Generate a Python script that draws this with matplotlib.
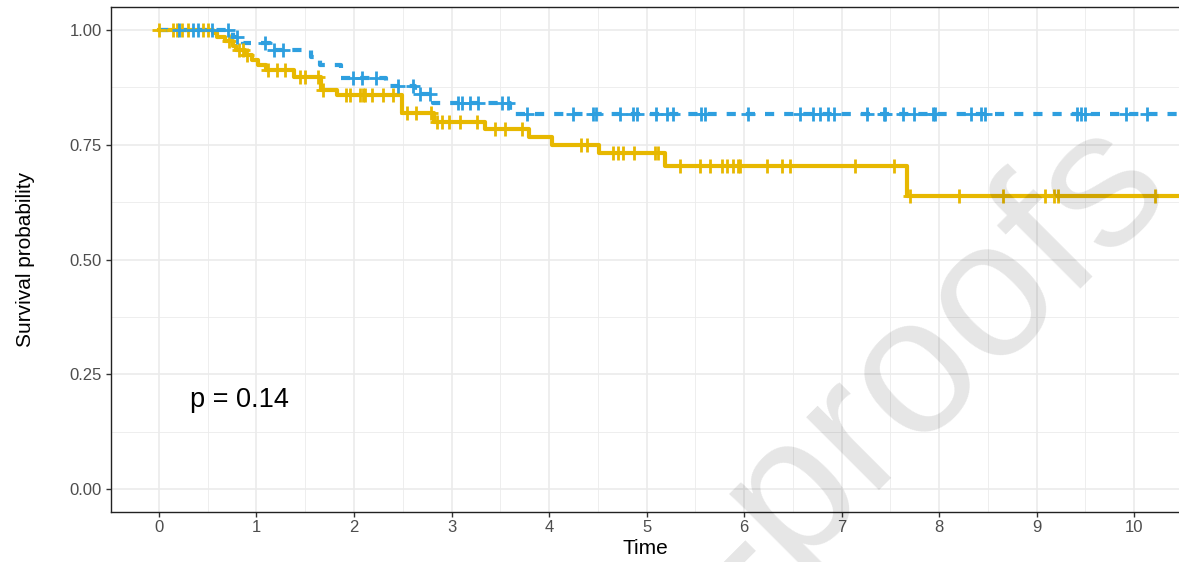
import numpy as np
import matplotlib
matplotlib.use("Agg")
import matplotlib.pyplot as plt

plt.rcParams['font.family'] = ['Liberation Sans', 'DejaVu Sans']

# ---------------- data ----------------
# Group 1 (yellow, solid) Kaplan-Meier steps
yel_step_t = [0.0, 0.55, 0.60, 0.68, 0.76, 0.79, 0.88, 0.95, 1.02, 1.10, 1.38,
              1.66, 1.83, 2.49, 2.82, 3.34, 3.79, 4.03, 4.51, 5.19, 7.67]
yel_step_s = [1.000, 0.993, 0.984, 0.975, 0.964, 0.956, 0.946, 0.935, 0.924, 0.913, 0.898,
              0.869, 0.858, 0.820, 0.800, 0.784, 0.766, 0.749, 0.731, 0.703, 0.638]
yel_censor = [0.0, 0.14, 0.18, 0.24, 0.30, 0.45, 0.50, 0.72, 0.82, 0.86, 0.90,
              1.12, 1.21, 1.29, 1.45, 1.50, 1.63, 1.68,
              1.92, 1.96, 2.06, 2.09, 2.11, 2.18, 2.30, 2.40,
              2.54, 2.64, 2.79, 2.85, 2.90, 2.97, 3.09, 3.26,
              3.45, 3.55, 3.72, 4.33, 4.39,
              4.66, 4.71, 4.76, 4.87, 5.09, 5.12,
              5.34, 5.55, 5.65, 5.77, 5.83, 5.89, 5.94, 5.96, 6.23, 6.39, 6.47, 7.14, 7.54,
              7.70, 8.20, 8.66, 9.09, 9.18, 9.22, 10.21]

# Group 2 (blue, dashed) Kaplan-Meier steps
blu_step_t = [0.0, 0.76, 0.86, 1.14, 1.56, 1.65, 1.87, 2.33, 2.63, 2.81, 3.60]
blu_step_s = [1.000, 0.984, 0.971, 0.956, 0.942, 0.924, 0.895, 0.879, 0.861, 0.840, 0.818]
blu_censor = [0.21, 0.35, 0.40, 0.54, 0.71, 0.80, 1.09, 1.18, 1.27,
              1.99, 2.08, 2.23, 2.45, 2.61, 2.68, 2.78,
              3.07, 3.11, 3.19, 3.27, 3.52, 3.58,
              3.77, 4.25, 4.45, 4.48, 4.73, 4.86, 4.90, 5.10, 5.21, 5.27, 5.56, 5.60,
              6.04, 6.57, 6.71, 6.78, 6.86, 6.92, 7.26, 7.43, 7.45, 7.63, 7.74, 7.94, 7.96,
              8.33, 8.43, 8.47, 9.41, 9.45, 9.50, 9.92, 10.13]

end_time = 10.6
x_ticks = [0, 1, 2, 3, 4, 5, 6, 7, 8, 9, 10]
y_ticks = [0.0, 0.25, 0.50, 0.75, 1.00]
y_tick_labels = ["0.00", "0.25", "0.50", "0.75", "1.00"]
p_text = "p = 0.14"

YEL = "#E7B800"
BLU = "#2E9FDF"


def surv_at(step_t, step_s, t):
    idx = np.searchsorted(np.asarray(step_t), np.asarray(t), side="right") - 1
    return np.asarray(step_s)[idx]


fig = plt.figure(figsize=(11.79, 5.62), dpi=100)
ax = fig.add_axes([111 / 1179, 50 / 562, 1068 / 1179, 505 / 562])

# grid
ax.set_xticks(x_ticks)
ax.set_xticks(np.arange(-0.5, 10.6, 0.5), minor=True)
ax.set_yticks(y_ticks)
ax.set_yticks([0.125, 0.375, 0.625, 0.875], minor=True)
ax.grid(which="major", color="#EBEBEB", lw=1.2, zorder=0)
ax.grid(which="minor", color="#EBEBEB", lw=0.6, zorder=0)
ax.set_axisbelow(True)

# curves
lw = 3.0
for st, ss, cens, col, ls in [
    (yel_step_t, yel_step_s, yel_censor, YEL, "-"),
    (blu_step_t, blu_step_s, blu_censor, BLU, "--"),
]:
    tt = list(st) + [end_time]
    sv = list(ss) + [ss[-1]]
    line, = ax.step(tt, sv, where="post", color=col, lw=lw, ls=ls, zorder=3)
    if ls == "--":
        line.set_dashes((2.2, 2.4))
    ax.plot(cens, surv_at(st, ss, cens), ls="none", marker="+", color=col,
            ms=10, mew=2.0, zorder=4)

ax.text(0.32, 0.195, p_text, fontsize=19.5, ha="left", va="center", color="black")

ax.set_xlim(-0.492, 10.46)
ax.set_ylim(-0.05, 1.05)
ax.set_yticklabels(y_tick_labels)
ax.set_xticklabels([str(v) for v in x_ticks])

ax.tick_params(which="major", length=3.6, width=1.0, color="#333333",
               labelcolor="#4D4D4D", labelsize=12)
ax.tick_params(axis="y", pad=3)
ax.tick_params(axis="x", pad=2.5)
ax.tick_params(which="minor", length=0)

for s in ["top", "left", "bottom"]:
    ax.spines[s].set_color("#222222")
    ax.spines[s].set_linewidth(1.0)
ax.spines["right"].set_visible(False)

ax.set_xlabel("Time", fontsize=15, color="black", va="top")
ax.set_ylabel("Survival probability", fontsize=15, color="black")
ax.xaxis.set_label_coords(0.5, -0.054)
ax.yaxis.set_label_coords(-0.071, 0.5)

# watermark
fig.text(1176 / 1179, 1 - 193 / 562, "Journal Pre-proofs", fontsize=140,
         color="black", alpha=0.1, ha="right", va="baseline", rotation=45,
         rotation_mode="anchor", zorder=10)

fig.savefig("out.png", dpi=100)
